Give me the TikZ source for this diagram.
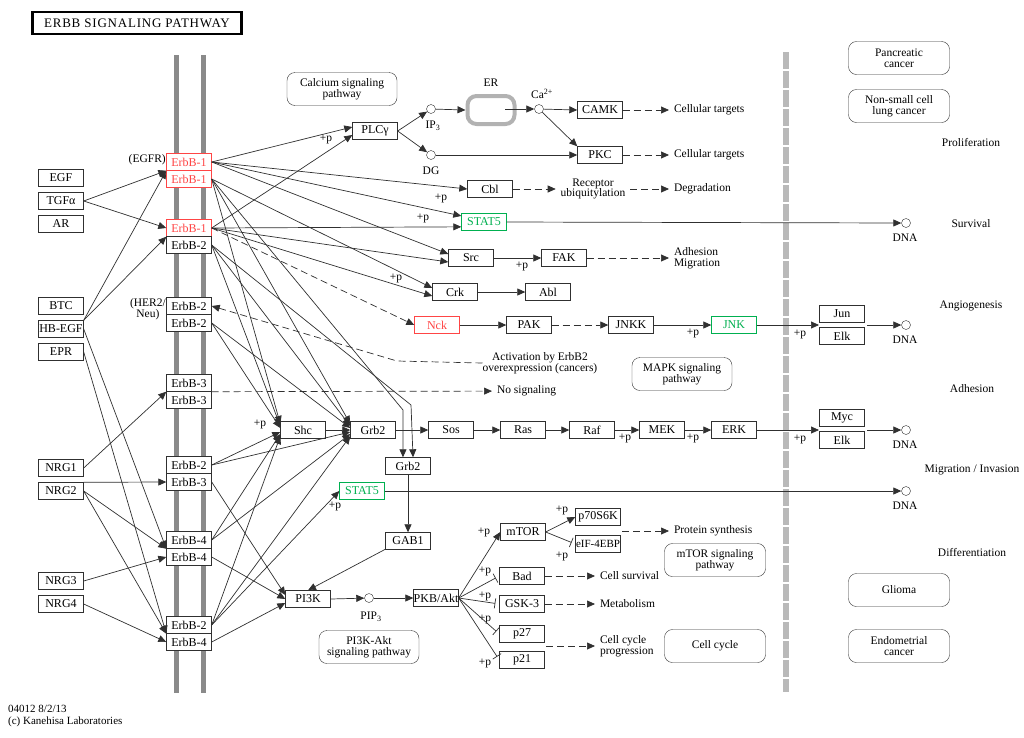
\documentclass[tikz,border=0pt]{standalone}
\usepackage{fontspec}
\setmainfont{Liberation Serif}
\usetikzlibrary{arrows.meta}
\definecolor{kred}{HTML}{FF4545}
\definecolor{kgreen}{HTML}{00B050}
\definecolor{memb}{HTML}{8A8A8A}
\definecolor{kline}{HTML}{303030}

\begin{document}
\begin{tikzpicture}[x=1pt,y=-1pt,
  font=\fontsize{12}{12}\selectfont,
  box/.style={draw=kline,fill=white,minimum width=45pt,minimum height=17pt,inner sep=0pt},
  redbox/.style={box,draw=kred,text=kred},
  greenbox/.style={box,draw=kgreen,text=kgreen},
  mapbox/.style={draw=kline,rounded corners=8pt,minimum width=101pt,minimum height=33pt,inner sep=0pt,align=center,font=\fontsize{11.5}{10.5}\selectfont},
  dot/.style={circle,draw=kline,fill=white,minimum size=9pt,inner sep=0pt},
  lbl/.style={inner sep=0pt,align=center,font=\fontsize{11.5}{10.5}\selectfont},
  txt/.style={inner sep=0pt,outer sep=5pt,anchor=west,align=left,font=\fontsize{11.5}{10.5}\selectfont},
  pp/.style={inner sep=0pt,font=\fontsize{11.5}{10}\selectfont},
  arr/.style={color=kline,line width=0.7pt,-{Triangle[length=8pt,width=7pt]}},
  inh/.style={color=kline,line width=0.7pt,-{Bar[width=10pt]},shorten >=4pt},
  dsh/.style={arr,dash pattern=on 7pt off 4pt}]
\useasboundingbox (0,0) rectangle (1024,737);

% title
\node[draw=black,line width=2.5pt,minimum width=209pt,minimum height=22pt,inner sep=0pt,font=\fontsize{13}{13}\selectfont\addfontfeatures{LetterSpace=6}] (title) at (137,23) {ERBB SIGNALING PATHWAY};

% membrane and nucleus border
\draw[memb,line width=5pt] (176,55) -- (176,693);
\draw[memb,line width=5pt] (203,55) -- (203,693);
\draw[gray!55,line width=6pt,dash pattern=on 17pt off 2pt] (786,52) -- (786,692);

% receptors
\node[redbox] (r1a) at (189,162) {ErbB-1};
\node[redbox] (r1b) at (189,179) {ErbB-1};
\node[redbox] (r2a) at (189,228) {ErbB-1};
\node[box] (r2b) at (189,245) {ErbB-2};
\node[box] (r3a) at (189,306) {ErbB-2};
\node[box] (r3b) at (189,323) {ErbB-2};
\node[box] (r4a) at (189,383) {ErbB-3};
\node[box] (r4b) at (189,400) {ErbB-3};
\node[box] (r5a) at (189,465) {ErbB-2};
\node[box] (r5b) at (189,482) {ErbB-3};
\node[box] (r6a) at (189,540) {ErbB-4};
\node[box] (r6b) at (189,557) {ErbB-4};
\node[box] (r7a) at (189,625) {ErbB-2};
\node[box] (r7b) at (189,642) {ErbB-4};
\node[lbl,anchor=east] (egfr) at (166,160) {(EGFR)};
\node[lbl,anchor=east] (her2) at (166,309) {(HER2/\\Neu)};

% ligands
\node[box] (egf) at (61,178) {EGF};
\node[box] (tgf) at (61,201) {TGFα};
\node[box] (ar) at (61,224) {AR};
\node[box] (btc) at (61,306) {BTC};
\node[box] (hbegf) at (61,329) {HB-EGF};
\node[box] (epr) at (61,352) {EPR};
\node[box] (nrg1) at (61,468) {NRG1};
\node[box] (nrg2) at (61,491) {NRG2};
\node[box] (nrg3) at (61,581) {NRG3};
\node[box] (nrg4) at (61,604) {NRG4};

% calcium branch
\node[mapbox,minimum width=110pt] (capath) at (342,89) {Calcium signaling\\pathway};
\node[box] (plc) at (375,131) {PLCγ};
\node[dot] (ip3) at (431,109) {};
\node[lbl] (ip3l) at (433,126) {IP\textsubscript{3}};
\node[dot] (dg) at (431,155) {};
\node[lbl] (dgl) at (431,171) {DG};
\node[draw=gray!60,line width=4pt,rounded corners=9pt,minimum width=47pt,minimum height=28pt] (er) at (491,110) {};
\node[lbl] (erl) at (491,83) {ER};
\coordinate (eri) at (505,109);
\node[dot] (ca) at (539,109) {};
\node[lbl] (cal) at (542,94) {Ca\textsuperscript{2+}};
\node[box] (camk) at (600,110) {CAMK};
\node[box] (pkc) at (600,155) {PKC};
\node[txt] (ct1) at (669,110) {Cellular targets};
\node[txt] (ct2) at (669,155) {Cellular targets};

% receptor fate
\node[box] (cbl) at (490,189) {Cbl};
\node[lbl,outer sep=5pt] (ubq) at (593,189) {Receptor\\ubiquitylation};
\node[txt] (degr) at (669,189) {Degradation};
\node[greenbox] (stat5) at (484,222) {STAT5};
\node[box] (src) at (471,258) {Src};
\node[box] (fak) at (564,258) {FAK};
\node[txt] (adh) at (669,258) {Adhesion\\Migration};
\node[box] (crk) at (455,292) {Crk};
\node[box] (abl) at (548,292) {Abl};

% JNK branch
\node[redbox] (nck) at (437,325) {Nck};
\node[box] (pak) at (529,325) {PAK};
\node[box] (jnkk) at (631,325) {JNKK};
\node[greenbox] (jnk) at (734,325) {JNK};
\node[box] (jun) at (842,314) {Jun};
\node[box] (elk1) at (842,336) {Elk};
\coordinate (je) at (819,325);
\coordinate (jo) at (867,325);
\node[lbl] (act) at (540,363) {Activation by ErbB2\\overexpression (cancers)};
\node[mapbox,minimum width=100pt] (mapk) at (682,374) {MAPK signaling\\pathway};
\node[txt] (nosig) at (492,391) {No signaling};

% MAPK branch
\node[box] (shc) at (303,430) {Shc};
\node[box] (grb2) at (373,430) {Grb2};
\node[box] (sos) at (451,430) {Sos};
\node[box] (ras) at (523,430) {Ras};
\node[box] (raf) at (592,430) {Raf};
\node[box] (mek) at (662,430) {MEK};
\node[box] (erk) at (734,430) {ERK};
\node[box] (myc) at (842,418) {Myc};
\node[box] (elk2) at (842,440) {Elk};
\coordinate (me) at (819,430);
\coordinate (mo) at (867,430);

% PI3K branch
\node[box] (grb2b) at (408,466) {Grb2};
\node[greenbox] (stat5b) at (362,491) {STAT5};
\node[box] (gab1) at (408,541) {GAB1};
\node[box] (pi3k) at (308,599) {PI3K};
\node[dot] (pip3) at (369,598) {};
\node[lbl] (pip3l) at (371,617) {PIP\textsubscript{3}};
\node[box] (akt) at (436,598) {PKB/Akt};
\node[mapbox,minimum width=100pt] (pipath) at (369,647) {PI3K-Akt\\signaling pathway};
\node[box] (mtor) at (523,532) {mTOR};
\node[box] (p70) at (598,517) {p70S6K};
\node[box,font=\fontsize{11}{11}\selectfont] (eif) at (598,544) {eIF-4EBP};
\coordinate (pe) at (622,531);
\node[txt] (prot) at (669,531) {Protein synthesis};
\node[mapbox] (mtorpath) at (715,560) {mTOR signaling\\pathway};
\node[box] (bad) at (522,576) {Bad};
\node[box] (gsk) at (522,604) {GSK-3};
\node[box] (p27) at (522,634) {p27};
\node[box] (p21) at (522,660) {p21};
\coordinate (pc) at (546,646);
\node[txt] (surv) at (595,576) {Cell survival};
\node[txt] (metab) at (595,604) {Metabolism};
\node[txt] (ccp) at (595,646) {Cell cycle\\progression};
\node[mapbox] (cycle) at (715,646) {Cell cycle};

% nucleus side
\node[dot] (dna1) at (906,223) {};
\node[dot] (dna2) at (906,325) {};
\node[dot] (dna3) at (906,430) {};
\node[dot] (dna4) at (906,491) {};
\node[lbl] (dna1l) at (905,238) {DNA};
\node[lbl] (dna2l) at (905,340) {DNA};
\node[lbl] (dna3l) at (905,445) {DNA};
\node[lbl] (dna4l) at (905,506) {DNA};
\node[mapbox] (panc) at (899,58) {Pancreatic\\cancer};
\node[mapbox] (nsclc) at (899,106) {Non-small cell\\lung cancer};
\node[mapbox] (glioma) at (899,590) {Glioma};
\node[mapbox] (endo) at (899,646) {Endometrial\\cancer};
\node[lbl] (prolif) at (971,143) {Proliferation};
\node[lbl] (survl) at (971,224) {Survival};
\node[lbl] (angio) at (971,306) {Angiogenesis};
\node[lbl] (adhl) at (972,389) {Adhesion};
\node[lbl] (migr) at (972,470) {Migration / Invasion};
\node[lbl] (diff) at (972,552) {Differentiation};

% phosphorylation marks
\node[pp] (pp1) at (326,139) {+p};
\node[pp] (pp2) at (441,198) {+p};
\node[pp] (pp3) at (423,218) {+p};
\node[pp] (pp4) at (522,266) {+p};
\node[pp] (pp5) at (396,278) {+p};
\node[pp] (pp6) at (693,333) {+p};
\node[pp] (pp7) at (800,334) {+p};
\node[pp] (pp8) at (260,424) {+p};
\node[pp] (pp9) at (625,438) {+p};
\node[pp] (pp10) at (693,438) {+p};
\node[pp] (pp11) at (800,439) {+p};
\node[pp] (pp12) at (335,506) {+p};
\node[pp] (pp13) at (484,532) {+p};
\node[pp] (pp14) at (562,510) {+p};
\node[pp] (pp15) at (562,556) {+p};
\node[pp] (pp16) at (485,571) {+p};
\node[pp] (pp17) at (485,596) {+p};
\node[pp] (pp18) at (485,619) {+p};
\node[pp] (pp19) at (485,663) {+p};

% footer
\node[anchor=west,inner sep=0pt,align=left,font=\fontsize{11}{11.5}\selectfont] (foot) at (8,716) {04012 8/2/13\\(c) Kanehisa Laboratories};

% ligand binding
\path [arr] (tgf.east) edge (r1a.south west);
\path [arr] (tgf.east) edge (r2a.west);
\path [arr] (hbegf.north east) edge (r1a.south west);
\path [arr] (hbegf.north east) edge (r2a.south west);
\path [arr] (hbegf.east) edge (r6a.south west);
\path [arr] (epr.east) edge (r7a.south west);
\path [arr] (nrg1.east) edge (r4a.south west);
\path [arr] (nrg2.north east) edge (r5b.west);
\path [arr] (nrg2.east) edge (r6a.south west);
\path [arr] (nrg2.east) edge (r7a.south west);
\path [arr] (nrg3.east) edge (r6b.west);
\path [arr] (nrg4.east) edge (r7b.west);

% EGFR homodimer
\path [arr] (r1a.east) edge (plc.170);
\path [arr] (r1a.east) edge (cbl.west);
\path [arr] (r1a.east) edge (stat5.165);
\path [arr] (r1a.east) edge (src.170);
\path [arr] (r1b.east) edge (crk.170);
\path [arr] (r1b.east) edge (shc.165);
\path [arr] (r1b.east) edge (grb2.165);
\draw [arr] (r1b.east) -- (403,410) -- (grb2b.120);
% EGFR / ErbB-2
\path [arr] (r2a.east) edge (plc.190);
\path [arr] (r2a.east) edge (stat5.192);
\path [arr] (r2a.east) edge (src.190);
\path [arr] (r2a.east) edge (crk.190);
\path [dsh] (r2a.east) edge (nck.west);
\path [arr] (r2b.east) edge (shc.170);
\path [arr] (r2b.east) edge (grb2.170);
\draw [arr] (r2b.east) -- (411,405) -- (grb2b.60);
% other dimers
\path [arr] (r3b.east) edge (shc.175);
\path [arr] (r3b.east) edge (grb2.175);
\draw [dsh] (act.west) -- (397,361) -- (r3a.east);
\path [dsh] (r4a.south east) edge (nosig);
\path [arr] (r5a.east) edge (shc.185);
\path [arr] (r5a.east) edge (grb2.185);
\path [arr] (r5b.east) edge (pi3k.170);
\path [arr] (r6a.east) edge (shc.190);
\path [arr] (r6a.east) edge (grb2.190);
\path [arr] (r6b.east) edge (pi3k.180);
\path [arr] (r7a.east) edge (shc.195);
\path [arr] (r7a.east) edge (grb2.195);
\path [arr] (r7a.east) edge (stat5b.west);
\path [arr] (r7b.east) edge (pi3k.190);

% calcium
\path [arr] (plc.east) edge (ip3);
\path [arr] (plc.east) edge (dg);
\path [arr] (ip3) edge (er.west);
\path [arr] (eri) edge (ca);
\path [arr] (ca) edge (camk.west);
\path [arr] (ca) edge (pkc.north west);
\path [arr] (dg) edge (pkc.west);
\path [dsh] (camk.east) edge (ct1);
\path [dsh] (pkc.east) edge (ct2);
\path [dsh] (cbl.east) edge (ubq);
\path [dsh] (ubq) edge (degr);
\path [arr] (stat5.east) edge (dna1.west);
\path [arr] (src.east) edge (fak.west);
\path [dsh] (fak.east) edge (adh);
\path [arr] (crk.east) edge (abl.west);

% JNK
\path [arr] (nck.east) edge (pak.west);
\path [dsh] (pak.east) edge (jnkk.west);
\path [arr] (jnkk.east) edge (jnk.west);
\path [arr] (jnk.east) edge (je);
\path [arr] (jo) edge (dna2.west);

% MAPK
\path [arr] (shc.east) edge (grb2.west);
\path [arr] (grb2.east) edge (sos.west);
\path [arr] (sos.east) edge (ras.west);
\path [arr] (ras.east) edge (raf.west);
\path [arr] (raf.east) edge (mek.west);
\path [arr] (mek.east) edge (erk.west);
\path [arr] (erk.east) edge (me);
\path [arr] (mo) edge (dna3.west);
\path [arr] (stat5b.east) edge (dna4.west);

% PI3K - Akt
\path [arr] (grb2b.south) edge (gab1.north);
\path [arr] (gab1.200) edge (pi3k.north);
\path [arr] (pi3k.east) edge (pip3);
\path [arr] (pip3) edge (akt.west);
\path [arr] (akt.east) edge (mtor.west);
\path [inh] (akt.east) edge (bad.west);
\path [inh] (akt.east) edge (gsk.west);
\path [inh] (akt.east) edge (p27.west);
\path [inh] (akt.east) edge (p21.west);
\path [arr] (mtor.east) edge (p70.west);
\path [inh] (mtor.east) edge (eif.west);
\path [dsh] (pe) edge (prot);
\path [dsh] (bad.east) edge (surv);
\path [dsh] (gsk.east) edge (metab);
\path [dsh] (pc) edge (ccp);
\end{tikzpicture}
\end{document}
